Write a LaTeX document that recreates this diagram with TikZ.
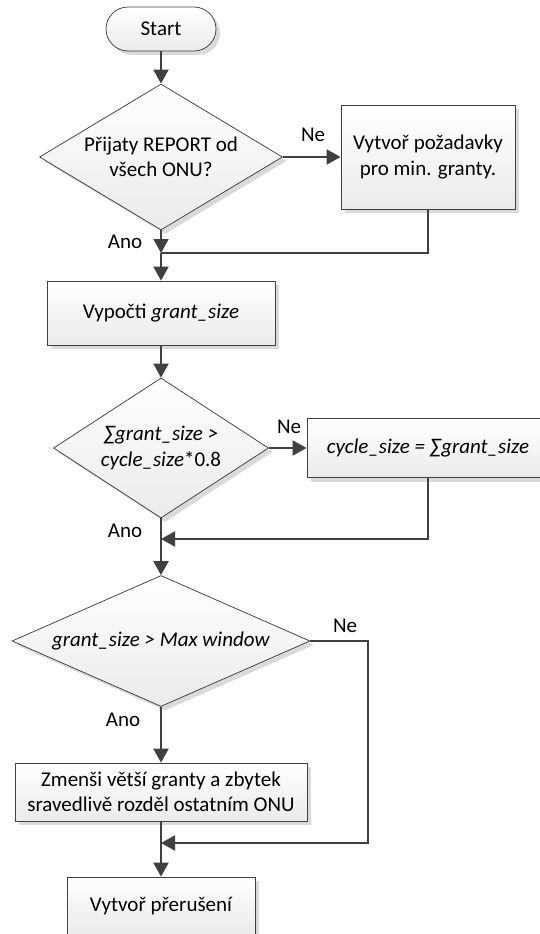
\documentclass[tikz,border=0pt]{standalone}
\usepackage{fontspec}
\setmainfont{Carlito}
\usetikzlibrary{shapes.geometric,arrows.meta,shadows}
\definecolor{linegray}{HTML}{404040}
\definecolor{shadowgray}{HTML}{DADADA}
\begin{document}
\begin{tikzpicture}[x=1pt,y=-1pt,>={Triangle[length=14pt,width=15pt]},
    font=\fontsize{21}{25.5}\selectfont,
    base/.style={draw=linegray,line width=0.75pt,top color=white,bottom color=black!8,
      align=center,inner sep=0pt,
      drop shadow={shadow xshift=4pt,shadow yshift=-4pt,fill=shadowgray,opacity=1}},
    proc/.style={base,rectangle},
    decision/.style={base,diamond},
    line/.style={draw=linegray,line width=2pt}]
    \useasboundingbox (0,0) rectangle (540,934);
    % blocks
    \node[base,rounded corners=22pt,minimum width=110pt,minimum height=44pt] (start) at (161,29) {Start};
    \node[decision,aspect=1.66,minimum width=243pt,minimum height=146pt] (d1) at (161,157) {Přijaty REPORT od\\všech ONU?};
    \node[proc,minimum width=174pt,minimum height=104pt] (b1) at (428,157) {Vytvoř požadavky\\pro min. granty.};
    \node[proc,minimum width=228pt,minimum height=64pt] (b2) at (161,313) {Vypočti \textit{grant\_size}};
    \node[decision,aspect=1.54,minimum width=215pt,minimum height=140pt] (d2) at (161,448) {\textit{∑grant\_size >}\\\textit{cycle\_size}*0.8};
    \node[proc,minimum width=242pt,minimum height=59pt] (b3) at (428,448) {\textit{cycle\_size = ∑grant\_size}};
    \node[decision,aspect=2.27,minimum width=298pt,minimum height=131pt] (d3) at (161,641) {\textit{grant\_size > Max window}};
    \node[proc,minimum width=292pt,minimum height=58pt] (b4) at (161,792) {Zmenši větší granty a zbytek\\sravedlivě rozděl ostatním ONU};
    \node[proc,minimum width=188pt,minimum height=58pt] (b5) at (161,906) {Vytvoř přerušení};
    % labels
    \node (ne1) at (313,135) {Ne};
    \node (ano1) at (125,242) {Ano};
    \node (ne2) at (289,427) {Ne};
    \node (ano2) at (125,531) {Ano};
    \node (ne3) at (345,626) {Ne};
    \node (ano3) at (123,720) {Ano};
    % connectors
    \coordinate (m1) at (161,253);
    \coordinate (m2) at (161,539);
    \coordinate (m3) at (161,843);
    \coordinate (c3) at (368,641);
    \draw[line,->] (start) -- (d1);
    \draw[line,->] (d1) -- (b1);
    \draw[line,->] (d1) -- (m1);
    \draw[line] (b1) |- (m1);
    \draw[line,->] (m1) -- (b2);
    \draw[line,->] (b2) -- (d2);
    \draw[line,->] (d2) -- (b3);
    \draw[line,->] (d2) -- (d3);
    \draw[line,->] (b3) |- (m2);
    \draw[line,->] (d3) -- (b4);
    \draw[line,->] (d3.east) -- (c3) |- (m3);
    \draw[line,->] (b4) -- (b5);
\end{tikzpicture}
\end{document}
